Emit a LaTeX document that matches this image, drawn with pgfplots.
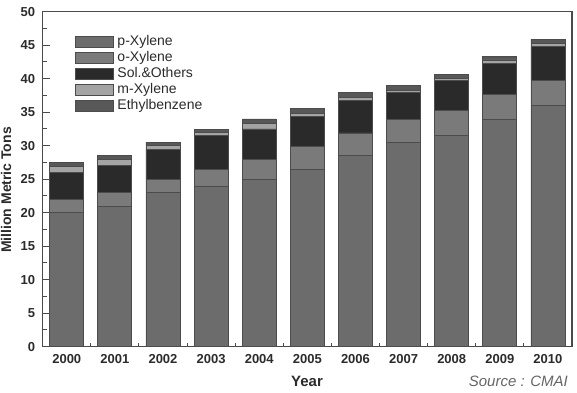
\documentclass[border=0pt]{standalone}
\usepackage{fontspec}
\setmainfont{Liberation Sans}
\usepackage{pgfplots}
\pgfplotsset{compat=1.18}
\usepackage{pgfplotstable}
\definecolor{cP}{HTML}{6C6C6C}
\definecolor{cO}{HTML}{7A7A7A}
\definecolor{cS}{HTML}{2A2A2A}
\definecolor{cM}{HTML}{A4A4A4}
\definecolor{cE}{HTML}{585858}
\definecolor{cEdge}{HTML}{4C4C4C}
\definecolor{cAxis}{HTML}{4A4A4A}
\definecolor{cText}{HTML}{2B2B2B}

\pgfplotstableread{
x p o s m e
0 20 2.0 4.0 0.9 0.6
1 21 2.0 4.0 1.0 0.6
2 23 1.9 4.6 0.5 0.5
3 24 2.5 5.0 0.5 0.45
4 25 3.0 4.5 0.8 0.7
5 26.5 3.4 4.5 0.4 0.7
6 28.5 3.4 4.8 0.5 0.8
7 30.5 3.4 4.0 0.4 0.7
8 31.5 3.7 4.5 0.4 0.6
9 34 3.7 4.6 0.5 0.5
10 36 3.8 5.0 0.5 0.6
}\datatable

\begin{document}
\begin{tikzpicture}
\useasboundingbox (0,0) rectangle (577pt,392pt);
\begin{axis}[
  at={(42.7pt,45.3pt)}, anchor=south west,
  scale only axis, width=529.3pt, height=335pt,
  ybar stacked, bar width=34pt,
  xmin=-0.5, xmax=10.5, ymin=0, ymax=50,
  xtick={0,...,10},
  xticklabels={2000,2001,2002,2003,2004,2005,2006,2007,2008,2009,2010},
  minor xtick={0.5,1.5,...,9.5},
  ytick={0,5,...,50},
  minor ytick={2.5,7.5,...,47.5},
  tick align=inside, xtick pos=bottom, ytick pos=left,
  major x tick style={draw=none},
  major tick length=7pt, minor tick length=4pt,
  tick style={color=cAxis, line width=1pt},
  axis line style={color=cAxis, line width=1.5pt},
  /pgf/number format/assume math mode=true,
  ticklabel style={font=\bfseries\fontsize{13}{15}\selectfont, text=cText, inner sep=0pt},
  xticklabel style={yshift=-8pt},
  yticklabel style={xshift=-7.5pt},
  legend style={draw=none, fill=none, at={(0.061,0.935)}, anchor=north west,
    inner sep=0pt, row sep=0pt, column sep=2pt,
    font=\fontsize{14}{16}\selectfont, text=cText,
    nodes={inner sep=1.5pt, text height=10pt, text depth=3pt, anchor=west}},
  legend cell align=left,
  legend image code/.code={\draw[#1] (0pt,-5.5pt) rectangle (38pt,5.5pt);},
]
\addplot[fill=cP, draw=cEdge, line width=0.8pt] table[x=x,y=p]{\datatable};
\addplot[fill=cO, draw=cEdge, line width=0.8pt] table[x=x,y=o]{\datatable};
\addplot[fill=cS, draw=cEdge, line width=0.8pt] table[x=x,y=s]{\datatable};
\addplot[fill=cM, draw=cEdge, line width=0.8pt] table[x=x,y=m]{\datatable};
\addplot[fill=cE, draw=cEdge, line width=0.8pt] table[x=x,y=e]{\datatable};
\legend{p-Xylene, o-Xylene, Sol.\&Others, m-Xylene, Ethylbenzene}
\end{axis}
\node[rotate=90, font=\bfseries\fontsize{14}{16}\selectfont, text=cText, inner sep=0pt] at (6pt,202pt) {Million Metric Tons};
\node[font=\bfseries\fontsize{15}{18}\selectfont, text=cText, inner sep=0pt] at (307pt,10.3pt) {Year};
\node[font=\itshape\fontsize{15}{18}\selectfont, text=black!60, anchor=east, inner sep=0pt] at (568pt,10.3pt) {Source : CMAI};
\end{tikzpicture}
\end{document}
